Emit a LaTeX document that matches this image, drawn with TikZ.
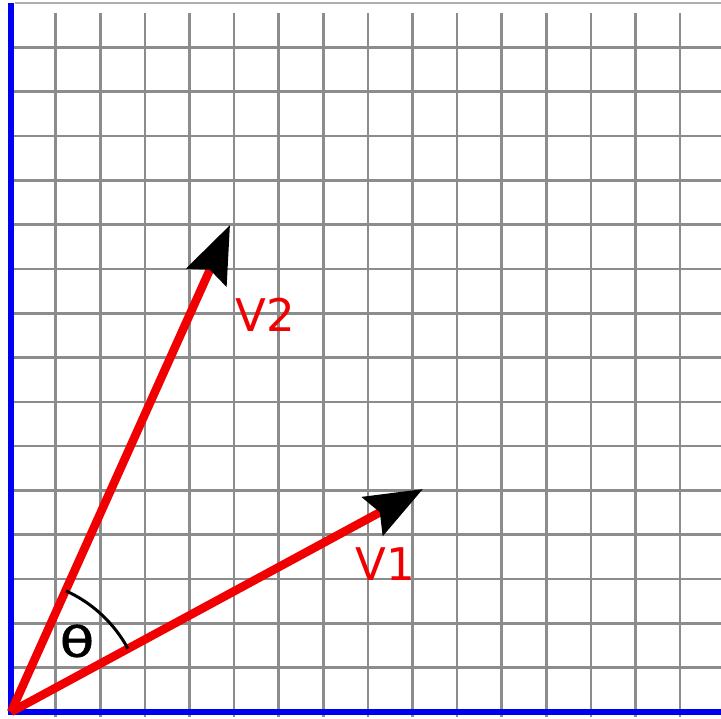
\documentclass[tikz,border=0pt]{standalone}
\usepackage{fontspec}
\setmainfont{DejaVu Sans}
\usetikzlibrary{arrows.meta}
\definecolor{gridgray}{RGB}{140,140,140}
\definecolor{vecred}{RGB}{240,0,0}
\definecolor{axisblue}{RGB}{0,0,240}
\tikzset{
  gridline/.style={draw=gridgray, line width=2.6pt},
  axisline/.style={draw=axisblue, line width=5.5pt},
  vecline/.style={draw=vecred, line width=8.5pt, -{Stealth[black, length=57pt, width=43pt, inset=8pt]}},
  veclabel/.style={text=vecred, font=\fontsize{45}{45}\selectfont, inner sep=0pt},
  anglelabel/.style={text=black, font=\fontsize{42}{42}\selectfont, inner sep=0pt}
}
\begin{document}
\begin{tikzpicture}[x=1pt,y=1pt]
\useasboundingbox (0,0) rectangle (721,719);
\fill[white] (0,0) rectangle (721,719);
% top border line
\draw[gridline, draw=gridgray!70] (15,716) -- (721,716);
% vertical grid lines
\foreach \k in {1,...,15} {
  \draw[gridline] ({11+44.6*\k},2) -- ({11+44.6*\k},706);
}
% horizontal grid lines
\foreach \k in {1,...,15} {
  \draw[gridline] (14,{7+44.3*\k}) -- (721,{7+44.3*\k});
}
% axes
\draw[axisline] (11,4) -- (11,716);
\draw[axisline] (8,7) -- (721,7);
% vectors
\coordinate (O) at (11,7);
\coordinate (A) at (423,230);
\coordinate (B) at (230,494);
\draw[vecline] (O) -- (A);
\draw[vecline] (O) -- (B);
% angle arc
\draw[black, line width=3pt] (O) ++(28.4:133) arc[start angle=28.4, end angle=65.6, radius=133];
% labels
\node[veclabel] (l1) at (385,155) {V1};
\node[veclabel] (l2) at (265,404) {V2};
\node[anglelabel] (th) at (77,78) {\scalebox{1.35}[1]{\addfontfeature{FakeBold=1}θ}};
\end{tikzpicture}
\end{document}
